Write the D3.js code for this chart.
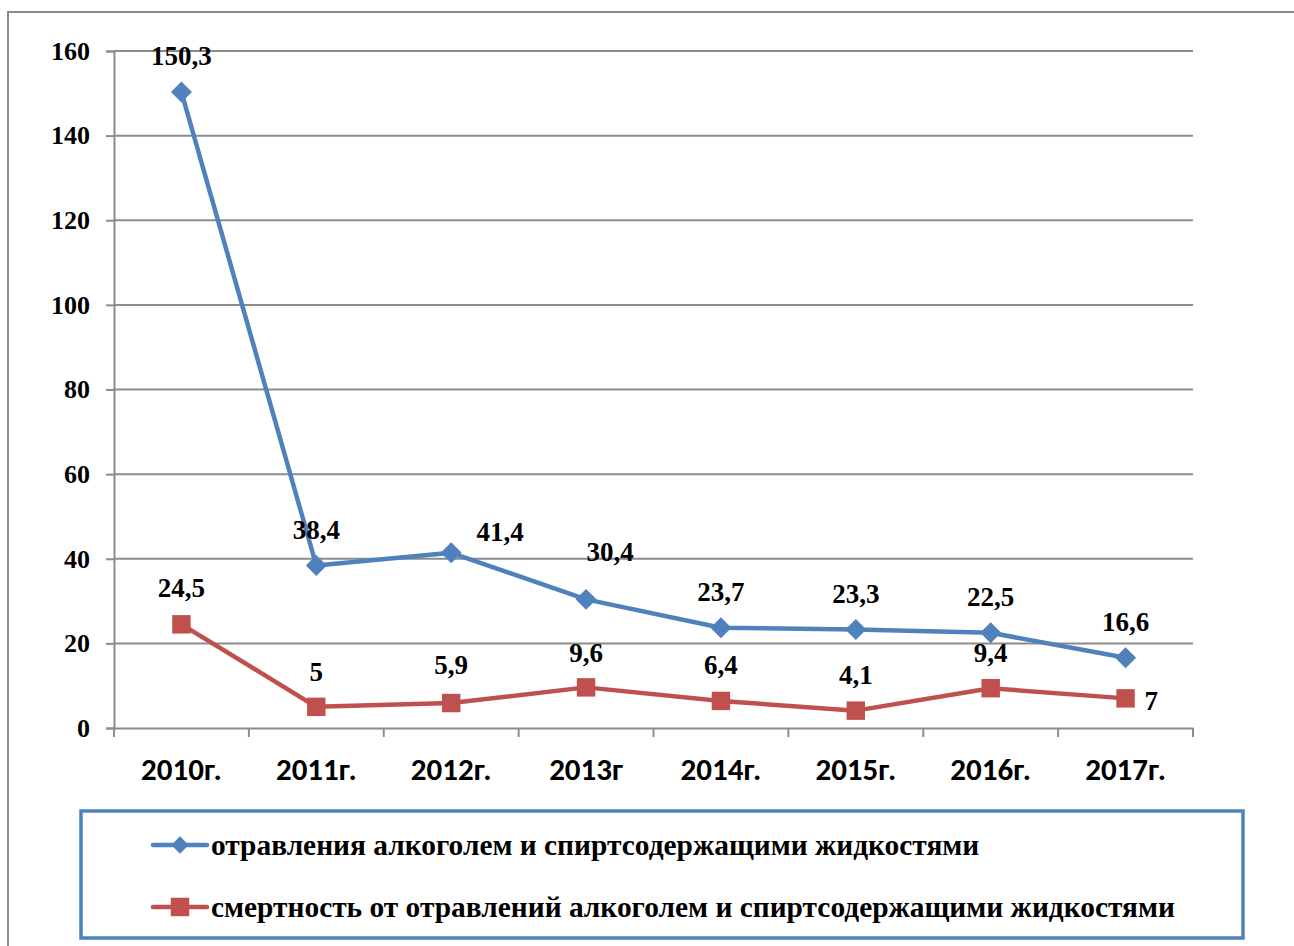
<!DOCTYPE html>
<html>
<head>
  <meta charset="utf-8">
  <title>Отравления алкоголем</title>
  <script src="https://d3js.org/d3.v7.min.js"></script>
  <style>
    body{margin:0;background:#fff;}
  </style>
</head>
<body>
  <script>
      // data
      var years=["2010г.","2011г.","2012г.","2013г","2014г.","2015г.","2016г.","2017г."];
      var poisonings=[150.3,38.4,41.4,30.4,23.7,23.3,22.5,16.6];
      var deaths=[24.5,5,5.9,9.6,6.4,4.1,9.4,7];
      var yTicks=[0,20,40,60,80,100,120,140,160];
      var seriesNames=["отравления алкоголем и спиртсодержащими жидкостями",
                       "смертность от отравлений алкоголем и спиртсодержащими жидкостями"];

      // label nudges (dx, dy from point) where excel moved them
      var poisOff=[[0,-36],[0,-36],[49,-21],[24,-48],[0,-36],[0,-36],[0,-36],[0,-36]];
      var deathOff=[[0,-37],[0,-35],[0,-38],[0,-35],[0,-36],[0,-36],[0,-36],[19,2]];

      var W=1294,H=946;
      var mLeft=114,mRight=1193,mTop=51,mBottom=728;
      var blue="#4F81BD",red="#C0504D",grid="#8c8c8c";
      var serif="'Liberation Serif','Times New Roman',serif";
      var sans="Carlito,'Liberation Sans',Arial,sans-serif";

      var svg=d3.select("body").append("svg")
                .attr("width",W).attr("height",H);

      // outer frame
      svg.append("path").attr("d","M8,946V12H1294")
         .attr("fill","none").attr("stroke",grid).attr("stroke-width",2);

      var x=d3.scaleBand().domain(years).range([mLeft,mRight]);
      var y=d3.scaleLinear().domain([0,160]).range([mBottom,mTop]);

      // gridlines
      svg.selectAll("line.grid").data(yTicks.slice(1)).enter().append("line")
         .attr("class","grid")
         .attr("x1",mLeft).attr("x2",mRight)
         .attr("y1",function(d){return y(d);}).attr("y2",function(d){return y(d);})
         .attr("stroke",grid).attr("stroke-width",2);

      // y axis
      var yAxis=svg.append("g").attr("transform","translate("+mLeft+",0)")
         .call(d3.axisLeft(y).tickValues(yTicks).tickSize(8).tickPadding(16).tickFormat(d3.format("d")));
      yAxis.select(".domain").attr("stroke",grid).attr("stroke-width",2);
      yAxis.selectAll(".tick line").attr("stroke",grid).attr("stroke-width",2);
      yAxis.selectAll("text").attr("font-family",serif).attr("font-weight","bold")
         .attr("font-size",26).attr("fill","#000");

      // x axis
      var xAxis=svg.append("g").attr("transform","translate(0,"+mBottom+")")
         .call(d3.axisBottom(x).tickSize(0).tickPadding(30));
      xAxis.select(".domain").attr("stroke",grid).attr("stroke-width",2);
      xAxis.selectAll("text").attr("font-family",sans).attr("font-weight","bold")
         .attr("font-size",31).attr("fill","#000");
      var bounds=years.map(function(d){return x(d);}).concat([mRight]);
      svg.selectAll("line.xt").data(bounds).enter().append("line")
         .attr("x1",function(d){return d;}).attr("x2",function(d){return d;})
         .attr("y1",mBottom).attr("y2",mBottom+9)
         .attr("stroke",grid).attr("stroke-width",2);

      var cx=function(i){return x(years[i])+x.bandwidth()/2;};
      var line=d3.line().x(function(d,i){return cx(i);}).y(function(d){return y(d);});

      function fmt(v){return String(v).replace(".",",");}

      function drawSeries(vals,color,diamond,offs){
        svg.append("path").datum(vals).attr("d",line)
           .attr("fill","none").attr("stroke",color).attr("stroke-width",4.5)
           .attr("stroke-linejoin","round");
        var sym=d3.symbol().type(d3.symbolSquare).size(diamond?220:340);
        svg.selectAll(null).data(vals).enter().append("path")
           .attr("d",sym)
           .attr("transform",function(d,i){
             return "translate("+cx(i)+","+y(d)+")"+(diamond?" rotate(45)":"");
           })
           .attr("fill",color);
        svg.selectAll(null).data(vals).enter().append("text")
           .text(fmt)
           .attr("x",function(d,i){return cx(i)+offs[i][0];})
           .attr("y",function(d,i){return y(d)+offs[i][1];})
           .attr("dy","0.35em")
           .attr("text-anchor",function(d,i){return (!diamond&&i===7)?"start":"middle";})
           .attr("font-family",serif).attr("font-weight","bold")
           .attr("font-size",27).attr("fill","#000");
      }
      drawSeries(poisonings,blue,true,poisOff);
      drawSeries(deaths,red,false,deathOff);

      // legend
      var lg=svg.append("g");
      lg.append("rect").attr("x",81).attr("y",811).attr("width",1162).attr("height",127)
        .attr("fill","none").attr("stroke",blue).attr("stroke-width",3.5);
      var items=[{name:seriesNames[0],color:blue,diamond:true},
                 {name:seriesNames[1],color:red,diamond:false}];
      items.forEach(function(it,i){
        var ly=845+i*62;
        lg.append("line").attr("x1",153).attr("x2",207).attr("y1",ly).attr("y2",ly)
          .attr("stroke",it.color).attr("stroke-width",4.5).attr("stroke-linecap","round");
        lg.append("path").attr("d",d3.symbol().type(d3.symbolSquare).size(it.diamond?150:340))
          .attr("transform","translate(180,"+ly+")"+(it.diamond?" rotate(45)":""))
          .attr("fill",it.color);
        lg.append("text").text(it.name).attr("x",211).attr("y",ly).attr("dy","0.35em")
          .attr("font-family",serif).attr("font-weight","bold").attr("font-size",29.4)
          .attr("fill","#000");
      });
  </script>
</body>
</html>
